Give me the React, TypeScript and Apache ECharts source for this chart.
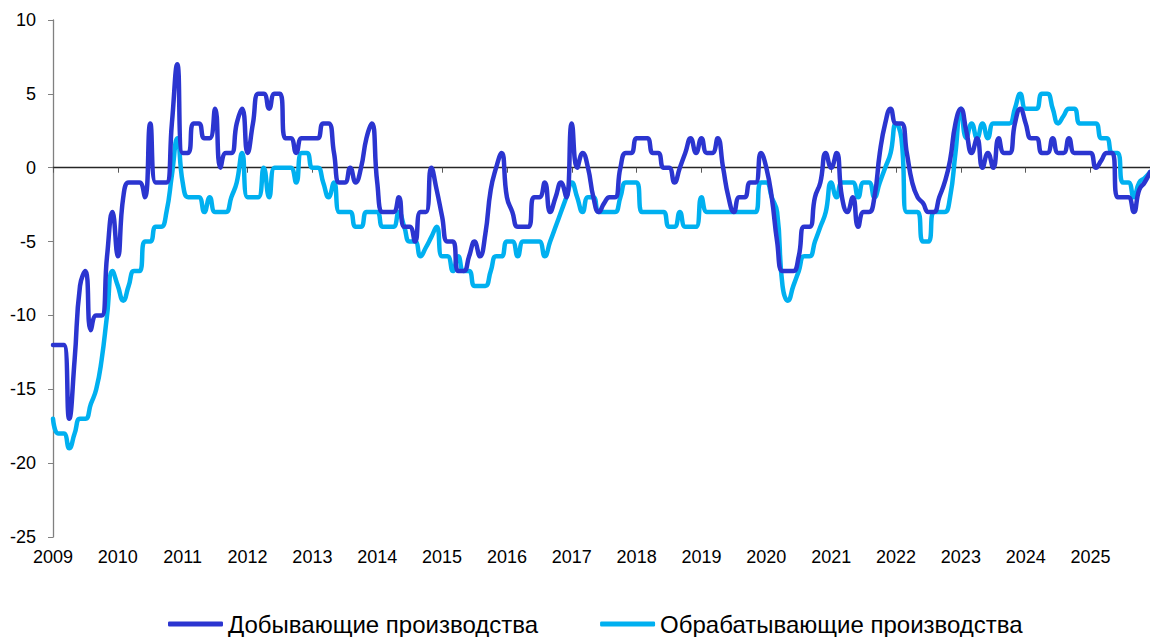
import React, { useEffect, useRef } from "react";
import * as echarts from "echarts";

const YEARS = [2009, 2010, 2011, 2012, 2013, 2014, 2015, 2016, 2017, 2018, 2019, 2020, 2021, 2022, 2023, 2024, 2025];
const MONTHS: string[] = YEARS.flatMap((y) =>
  ["01", "02", "03", "04", "05", "06", "07", "08", "09", "10", "11", "12"].map((m) => `${y}-${m}`)
);

const SERIES_NAMES = ["Добывающие производства", "Обрабатывающие производства"];

// Добывающие производства (monthly, Jan 2009 – Dec 2025)
const MINING = [
  -12, -12, -12, -17, -13, -8, -7, -11, -10, -10, -6, -3,
  -6, -2, -1, -1, -1, -2, 3, -1, -1, -1, 3, 7,
  1, 1, 3, 3, 2, 2, 4, 0, 1, 1, 3, 4,
  1, 3, 5, 5, 4, 5, 5, 2, 2, 1, 2, 2,
  2, 2, 3, 3, 1, -1, -1, 0, -1, 0, 2, 3,
  -1, -3, -3, -3, -2, -4, -4, -5, -3, -3, 0, -1.5,
  -3.3, -5, -5, -7, -7, -6, -5, -6, -4.5, -1.5, 0, 1,
  -2, -3, -4, -4, -4, -2, -2, -1, -3, -2, -1, -2,
  3, 0, 1, 0, -2, -3, -2.4, -2, -2, 0, 1, 1,
  2, 2, 2, 1, 1, 0, 0, -1, 0, 1, 2, 1,
  2, 1, 1, 2, 0, -2, -3, -2, -2, -1, -1, 1,
  0, -2, -5, -7, -7, -7, -6, -4, -4, -2, -1, 1,
  0, 1, -2, -3, -2, -4, -3, -3, -2, 1, 3, 4,
  3, 3, 1, -1, -2, -2.4, -3, -3, -2, -1, 0.5, 3,
  4, 2.5, 1, 2, 0, 1, 0, 2, 1, 1, 3, 4,
  3, 2, 2, 1, 1, 2, 1, 1, 2, 1, 1, 1,
  1, 0, 0.5, 1, 1, -2, -2, -2, -3, -1.5, -1, -0.3,
];

// Обрабатывающие производства (monthly, Jan 2009 – Dec 2025)
const MANUFACTURING = [
  -17, -18, -18, -19, -18, -17, -17, -16, -15, -13, -10, -7,
  -8, -9, -8, -7, -7, -5, -5, -4, -4, -3, -0.5, 2,
  -1, -2, -2, -2, -3, -2, -3, -3, -3, -2, -1, 1,
  -2, -2, -2, 0, -2, 0, 0, 0, 0, -1, 1, 1,
  0, 0, -1, -2, -1, -3, -3, -3, -4, -4, -3, -3,
  -3, -4, -4, -4, -3, -4, -5, -5, -6, -5.4, -4.7, -4,
  -6, -6, -7, -6, -7, -7, -8, -8, -8, -7, -6, -6,
  -5, -5, -6, -5, -5, -5, -5, -6, -5, -4, -3, -2,
  -1, -2, -3, -2, -2, -3, -3, -3, -3, -2, -1, -1,
  -1, -3, -3, -3, -3, -3, -4, -4, -3, -4, -4, -4,
  -2, -3, -3, -3, -3, -3, -3, -3, -3, -3, -3, -1,
  -1, -2, -3, -8, -9, -8, -7, -6, -6, -5, -4, -3,
  -1, -2, -1, -1, -1, -2, -1, -1, -2, -1, 0, 1,
  3, 2, -3, -3, -3, -5, -5, -3, -3, -3, -2, 1,
  4, 2, 3, 2, 3, 2, 3, 3, 3, 3, 4, 5,
  4, 4, 4, 5, 5, 4, 3, 3.5, 4, 4, 3, 3,
  3, 3, 2, 2, 1, 1, -1, -1, -2, -1, -0.7, -0.3,
];

const COLORS = ["#2B35D0", "#00B0F0"];
const Y_MIN = -25;
const Y_MAX = 10;
const Y_STEP = 5;

export default function App() {
  const ref = useRef<HTMLDivElement>(null);

  useEffect(() => {
    if (!ref.current) return;
    const chart = echarts.init(ref.current, null, { renderer: "svg" });
    const yearTick = (i: number) => i % 12 === 0;
    chart.setOption({
      animation: false,
      backgroundColor: "#ffffff",
      textStyle: { fontFamily: "Liberation Sans, Arial, sans-serif" },
      grid: { left: 53, right: 0, top: 20, bottom: 100, containLabel: false },
      legend: {
        left: 163,
        top: 607,
        itemWidth: 55,
        itemHeight: 5,
        itemGap: 62,
        icon: "roundRect",
        textStyle: { fontSize: 24, color: "#000", fontFamily: "Liberation Sans, Arial, sans-serif" },
        data: SERIES_NAMES,
      },
      xAxis: [
        {
          type: "category",
          data: MONTHS,
          boundaryGap: false,
          position: "bottom",
          axisLine: { show: true, onZero: true, lineStyle: { color: "#262626", width: 1.3 } },
          axisTick: { show: true, interval: yearTick, length: 5, lineStyle: { color: "#595959" } },
          axisLabel: { show: false },
          splitLine: { show: false },
        },
        {
          type: "category",
          data: MONTHS,
          boundaryGap: false,
          position: "bottom",
          axisLine: { show: false, onZero: false },
          axisTick: { show: false },
          axisLabel: {
            show: true,
            interval: yearTick,
            margin: 11,
            fontSize: 18,
            color: "#000",
            formatter: (v: string) => v.slice(0, 4),
          },
          splitLine: { show: false },
        },
      ],
      yAxis: {
        type: "value",
        min: Y_MIN,
        max: Y_MAX,
        interval: Y_STEP,
        axisLine: { show: true, lineStyle: { color: "#808080", width: 1.3 } },
        axisTick: { show: true, length: 5, lineStyle: { color: "#808080" } },
        axisLabel: { fontSize: 18, color: "#000", margin: 17 },
        splitLine: { show: false },
      },
      series: [
        {
          name: SERIES_NAMES[0],
          type: "line",
          data: MINING,
          smooth: 0.5,
          symbol: "none",
          xAxisIndex: 0,
          lineStyle: { color: COLORS[0], width: 4.5, cap: "round", join: "round" },
          itemStyle: { color: COLORS[0] },
          z: 3,
        },
        {
          name: SERIES_NAMES[1],
          type: "line",
          data: MANUFACTURING,
          smooth: 0.5,
          symbol: "none",
          xAxisIndex: 0,
          lineStyle: { color: COLORS[1], width: 4.5, cap: "round", join: "round" },
          itemStyle: { color: COLORS[1] },
          z: 2,
        },
      ],
    });
    return () => chart.dispose();
  }, []);

  return (
    <div
      ref={ref}
      style={{ position: "fixed", left: 0, top: 0, width: 1150, height: 637, background: "#fff" }}
    />
  );
}
